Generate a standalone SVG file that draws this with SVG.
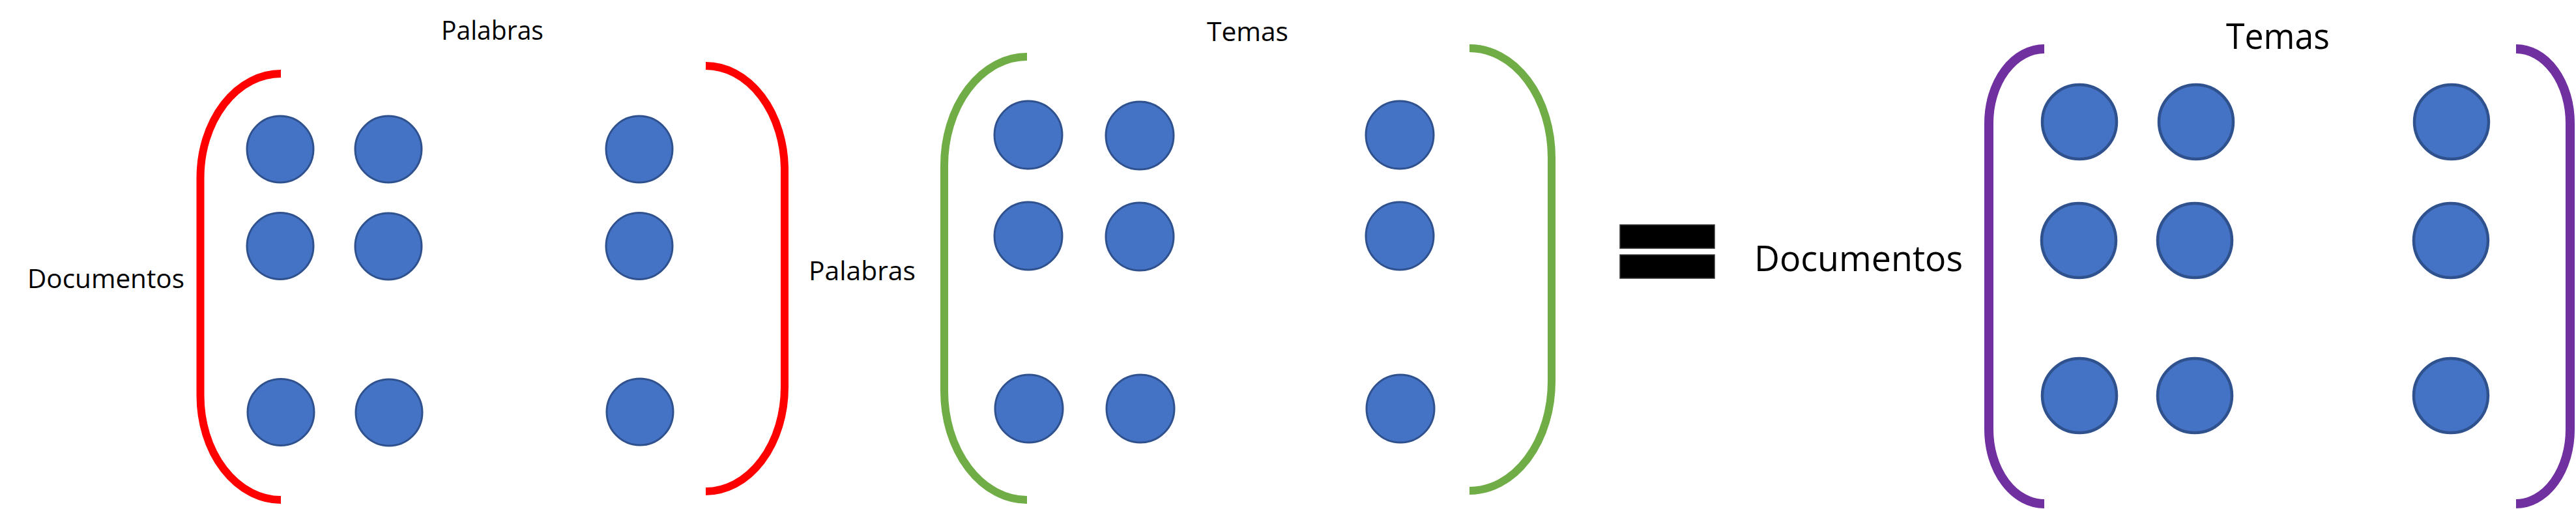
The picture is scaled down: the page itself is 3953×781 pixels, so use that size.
<svg xmlns="http://www.w3.org/2000/svg" width="3953" height="781" viewBox="0 0 3953 781">
<style>
.lbl{font-family:"Open Sans","Noto Sans","Liberation Sans",sans-serif;fill:#000;}
.s{font-size:40px;}
.b{font-size:54px;}
.br{fill:none;}
.red{stroke:#FF0000;stroke-width:12;}
.grn{stroke:#70AD47;stroke-width:12;}
.pur{stroke:#7030A0;stroke-width:14;}
.dot{fill:#4472C4;stroke:#2F528F;stroke-width:3;}
.dotb{fill:#4472C4;stroke:#2F528F;stroke-width:4.5;}
</style>
<rect width="3953" height="781" fill="#fff"/>

<g id="matrix-docs-words">
<path class="br red" d="M431,113 A123.5,160 0 0 0 307.5,273 L307.5,607 A123.5,160 0 0 0 431,767"/>
<path class="br red" d="M1083,101 A121,160 0 0 1 1204,261 L1204,594 A121,160 0 0 1 1083,754"/>
<circle class="dot" cx="430" cy="229" r="51"/>
<circle class="dot" cx="596" cy="229" r="51"/>
<circle class="dot" cx="981" cy="229" r="51"/>
<circle class="dot" cx="430" cy="377.5" r="51"/>
<circle class="dot" cx="596" cy="378" r="51"/>
<circle class="dot" cx="981" cy="377.5" r="51"/>
<circle class="dot" cx="431" cy="632.5" r="51"/>
<circle class="dot" cx="597" cy="633" r="51"/>
<circle class="dot" cx="982" cy="632" r="51"/>
</g>

<g id="matrix-words-topics">
<path class="br grn" d="M1576,87 A127,167 0 0 0 1449,254 L1449,600 A127,167 0 0 0 1576,767"/>
<path class="br grn" d="M2255,74 A126,168 0 0 1 2381,242 L2381,585 A126,168 0 0 1 2255,753"/>
<circle class="dot" cx="1578" cy="207" r="52"/>
<circle class="dot" cx="1749" cy="208" r="52"/>
<circle class="dot" cx="2148" cy="207" r="52"/>
<circle class="dot" cx="1578" cy="362" r="52"/>
<circle class="dot" cx="1749" cy="363" r="52"/>
<circle class="dot" cx="2148" cy="362" r="52"/>
<circle class="dot" cx="1579" cy="627" r="52"/>
<circle class="dot" cx="1750" cy="627" r="52"/>
<circle class="dot" cx="2149" cy="627" r="52"/>
</g>

<g id="equals">
<rect x="2486" y="345" width="145" height="36" fill="#000" stroke="#333" stroke-width="1.5"/>
<rect x="2486" y="391" width="145" height="36" fill="#000" stroke="#333" stroke-width="1.5"/>
</g>

<g id="matrix-docs-topics">
<path class="br pur" d="M3137,75 A85,114 0 0 0 3052,189 L3052,659 A85,114 0 0 0 3137,773"/>
<path class="br pur" d="M3861,75 A83,114 0 0 1 3944,189 L3944,659 A83,114 0 0 1 3861,773"/>
<circle class="dotb" cx="3191" cy="187" r="57"/>
<circle class="dotb" cx="3370" cy="187" r="57"/>
<circle class="dotb" cx="3762" cy="187" r="57"/>
<circle class="dotb" cx="3190" cy="369" r="57"/>
<circle class="dotb" cx="3368" cy="369" r="57"/>
<circle class="dotb" cx="3761" cy="369" r="57"/>
<circle class="dotb" cx="3191" cy="607" r="57"/>
<circle class="dotb" cx="3368" cy="607" r="57"/>
<circle class="dotb" cx="3761" cy="607" r="57"/>
</g>

<g id="label-palabras-top"><text class="lbl s" x="677" y="61" textLength="157" lengthAdjust="spacingAndGlyphs">Palabras</text></g>
<g id="label-documentos-left"><text class="lbl s" x="42" y="442" textLength="241" lengthAdjust="spacingAndGlyphs">Documentos</text></g>
<g id="label-palabras-mid"><text class="lbl s" x="1241" y="430" textLength="164" lengthAdjust="spacingAndGlyphs">Palabras</text></g>
<g id="label-temas-mid"><text class="lbl s" x="1852" y="63" textLength="125" lengthAdjust="spacingAndGlyphs">Temas</text></g>
<g id="label-documentos-right"><text class="lbl b" x="2692" y="416" textLength="320" lengthAdjust="spacingAndGlyphs">Documentos</text></g>
<g id="label-temas-right"><text class="lbl b" x="3416" y="75" textLength="159" lengthAdjust="spacingAndGlyphs">Temas</text></g>
</svg>
